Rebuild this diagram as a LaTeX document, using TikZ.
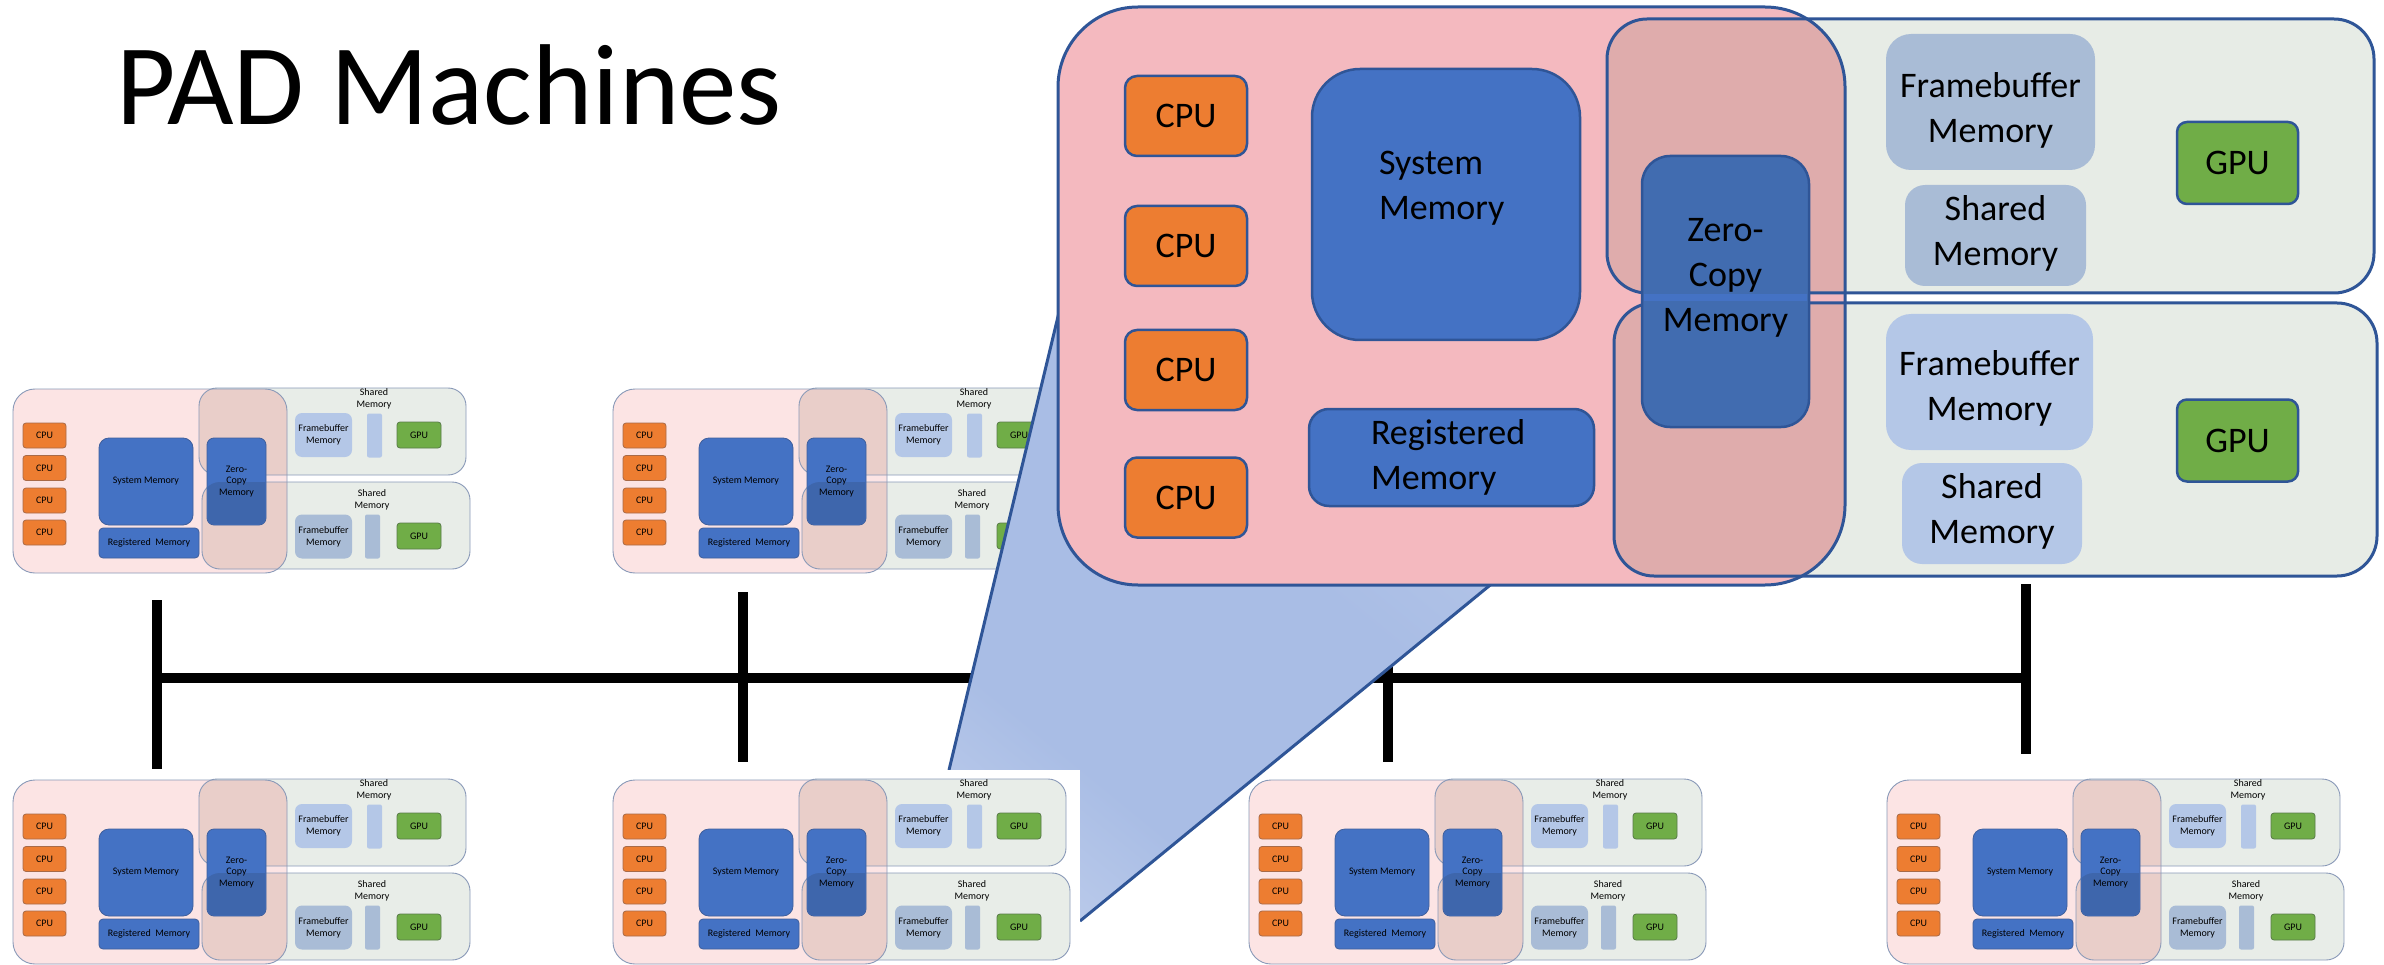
\documentclass[tikz,border=0pt]{standalone}
\usepackage{fontspec}
\setmainfont{Carlito}
\definecolor{sPink}{HTML}{FCE4E4}
\definecolor{sGreen}{HTML}{E8EDE8}
\definecolor{sOver}{HTML}{E9CEC9}
\definecolor{sLine}{HTML}{8A9AB8}
\definecolor{bPink}{HTML}{F4B9BF}
\definecolor{bGreen}{HTML}{E7ECE6}
\definecolor{bOver}{HTML}{DFACAC}
\definecolor{bLine}{HTML}{2F5597}
\definecolor{orangeC}{HTML}{ED7D31}
\definecolor{blueC}{HTML}{4472C4}
\definecolor{zcBig}{HTML}{416CB0}
\definecolor{zcDark}{HTML}{3E66AC}
\definecolor{fbLight}{HTML}{B4C7E7}
\definecolor{fbGray}{HTML}{A9BCD6}
\definecolor{gpuC}{HTML}{70AD47}
\definecolor{wedgeBlue}{HTML}{A9BDE5}
\definecolor{wedgeLight}{HTML}{BCCBEA}
\definecolor{wedgeWhite}{HTML}{ECF0F9}
\definecolor{sCPUl}{HTML}{A86A48}
\definecolor{sBlueL}{HTML}{3F5F9C}
\definecolor{sGPUl}{HTML}{587A48}
\pgfdeclarehorizontalshading{wedgeshade}{100bp}{color(0bp)=(wedgeWhite); color(15bp)=(wedgeWhite); color(43bp)=(wedgeBlue); color(59bp)=(wedgeBlue); color(76bp)=(wedgeLight); color(100bp)=(wedgeLight)}
\tikzset{
  every node/.style={inner sep=0pt,outer sep=0pt},
  sfont/.style={font=\fontsize{10}{11.7}\selectfont,align=center},
  bfont/.style={font=\fontsize{36}{45}\selectfont,align=center},
  sedge/.style={draw=sLine,line width=0.9pt},
  bedge/.style={draw=bLine,line width=3pt},
  scpu/.style={sfont,rectangle,rounded corners=3pt,fill=orangeC,draw=sCPUl,line width=0.8pt,minimum width=43pt,minimum height=25pt},
  ssys/.style={sfont,rectangle,rounded corners=10pt,fill=blueC,draw=sBlueL,line width=0.8pt,minimum width=94pt,minimum height=87pt},
  sreg/.style={sfont,rectangle,rounded corners=4pt,fill=blueC,draw=sBlueL,line width=0.8pt,minimum width=100pt,minimum height=30pt},
  szc/.style={rectangle,rounded corners=7pt,fill=blueC,draw=sBlueL,line width=0.8pt,minimum width=59pt,minimum height=87pt},
  sfb/.style={sfont,rectangle,rounded corners=7pt,minimum width=57pt,minimum height=44pt},
  sbar/.style={rectangle,rounded corners=2pt,minimum width=15pt,minimum height=44pt},
  sgpu/.style={sfont,rectangle,rounded corners=3pt,fill=gpuC,draw=sGPUl,line width=0.8pt,minimum width=44pt,minimum height=26pt},
  bcpu/.style={bfont,rectangle,rounded corners=12pt,fill=orangeC,draw=bLine,line width=2.5pt,minimum width=122pt,minimum height=80pt},
  bgpu/.style={bfont,rectangle,rounded corners=10pt,fill=gpuC,draw=bLine,line width=2.5pt,minimum width=121pt,minimum height=82pt},
  bblue/.style={rectangle,fill=blueC,draw=bLine,line width=2.5pt},
  bsoft/.style={rectangle},
  bus/.style={line width=10.6pt,black},
  wedgeline/.style={draw=bLine,line width=3pt},
}
\newcommand\smallmachine[3]{%
\begin{scope}[shift={(#1,#2)}]
\fill[sGreen,rounded corners=18pt] (199,388) rectangle (466,475);
\fill[sGreen,rounded corners=18pt] (202,482) rectangle (470,569);
\fill[sPink,rounded corners=22pt] (13,389) rectangle (287,573);
\begin{scope}
\clip[rounded corners=22pt] (13,389) rectangle (287,573);
\fill[sOver,rounded corners=18pt] (199,388) rectangle (466,475);
\fill[sOver,rounded corners=18pt] (202,482) rectangle (470,569);
\end{scope}
\draw[sedge,rounded corners=18pt] (199,388) rectangle (466,475);
\draw[sedge,rounded corners=18pt] (202,482) rectangle (470,569);
\draw[sedge,rounded corners=22pt] (13,389) rectangle (287,573);
\node[scpu] (#3cpua) at (44.5,435.5) {CPU};
\node[scpu] (#3cpub) at (44.5,468) {CPU};
\node[scpu] (#3cpuc) at (44.5,500.5) {CPU};
\node[scpu] (#3cpud) at (44.5,532.5) {CPU};
\node[ssys] (#3sys) at (146,481.5) {System Memory};
\node[sreg] (#3reg) at (149,543) {Registered\ \ Memory};
\node[szc] (#3zc) at (236.5,481.5) {};
\begin{scope}
\clip[rounded corners=18pt] (202,482) rectangle (470,569);
\fill[zcDark,rounded corners=6.5pt] (207.6,438.6) rectangle (265.4,524.4);
\end{scope}
\node[sfont] (#3zct) at (236.5,481.5) {Zero-\\Copy\\Memory};
\node[sfb,fill=fbLight] (#3fba) at (323.5,435) {Framebuffer\\Memory};
\node[sbar,fill=fbLight] (#3bara) at (374.5,435.5) {};
\node[sfont] (#3sma) at (374,399) {Shared\\Memory};
\node[sgpu] (#3gpua) at (419,435) {GPU};
\node[sfb,fill=fbGray] (#3fbb) at (323.5,536.5) {Framebuffer\\Memory};
\node[sbar,fill=fbGray] (#3barb) at (372.5,536.5) {};
\node[sfont] (#3smb) at (372,500) {Shared\\Memory};
\node[sgpu] (#3gpub) at (419,536) {GPU};
\end{scope}}
\begin{document}
\begin{tikzpicture}[x=1pt,y=-1pt]
\useasboundingbox (0,0) rectangle (2384,965);
\fill[white] (0,0) rectangle (2384,965);
% title
\node[anchor=base west,font=\fontsize{115}{138}\selectfont] (title) at (116,125) {PAD Machines};
% network
\coordinate (busL) at (157,678);
\coordinate (busR) at (2026,678);
\coordinate (s1t) at (157,600); \coordinate (s1b) at (157,769);
\coordinate (s2t) at (743,592); \coordinate (s2b) at (743,762);
\coordinate (s3t) at (1388,592); \coordinate (s3b) at (1388,762);
\coordinate (s4t) at (2026,584); \coordinate (s4b) at (2026,754);
\draw[bus] (busL) -- (busR);
\draw[bus] (s1t) -- (s1b);
\draw[bus] (s2t) -- (s2b);
\draw[bus] (s3t) -- (s3b);
\draw[bus] (s4t) -- (s4b);
% small machines
\smallmachine{0}{0}{ma}
\smallmachine{600}{0}{mb}
\smallmachine{0}{391}{na}
\smallmachine{1236}{391}{nc}
\smallmachine{1874}{391}{nd}
% zoom wedge
\coordinate (wA) at (949,770);
\coordinate (wB) at (1080,770);
\coordinate (wC) at (1080,921);
\coordinate (wD) at (1594,500);
\coordinate (wE) at (1086,200);
\fill[wedgeBlue] (wA) -- (wB) -- (wC) -- (wD) -- (wE) -- cycle;
\begin{scope}
\clip (wA) -- (wB) -- (wC) -- (wD) -- (wE) -- cycle;
\shade[shading=wedgeshade,transform canvas={rotate around={50.7:(1200,700)}}] (750,100) rectangle (1650,1300);
\end{scope}
\draw[wedgeline] (wA) -- (wE);
\draw[wedgeline] (wC) -- (wD);
\fill[white] (600,770) rectangle (1080,965);
\smallmachine{600}{391}{nb}
% big machine
\fill[bGreen,rounded corners=40pt] (1607,19) rectangle (2374,293);
\fill[bGreen,rounded corners=40pt] (1614,303) rectangle (2377,576);
\fill[bPink,rounded corners=80pt] (1058,7) rectangle (1845,585);
\begin{scope}
\clip[rounded corners=80pt] (1058,7) rectangle (1845,585);
\fill[bOver,rounded corners=40pt] (1607,19) rectangle (2374,293);
\fill[bOver,rounded corners=40pt] (1614,303) rectangle (2377,576);
\end{scope}
\draw[bedge,rounded corners=40pt] (1607,19) rectangle (2374,293);
\draw[bedge,rounded corners=40pt] (1614,303) rectangle (2377,576);
\draw[bedge,rounded corners=80pt] (1058,7) rectangle (1845,585);
\node[bcpu] (bcpua) at (1186,116) {CPU};
\node[bcpu] (bcpub) at (1186,246) {CPU};
\node[bcpu] (bcpuc) at (1186,370) {CPU};
\node[bcpu] (bcpud) at (1186,497.5) {CPU};
\node[bblue,rounded corners=48pt,minimum width=268pt,minimum height=271pt] (bsys) at (1446,204.5) {};
\node[bfont,align=left,anchor=west] (bsyst) at (1379,188) {System\\Memory};
\node[bblue,rounded corners=20pt,minimum width=285pt,minimum height=97pt] (breg) at (1451.5,457.5) {};
\node[bfont,align=left,anchor=west] (bregt) at (1371,457) {Registered\\Memory};
\node[bblue,fill=zcBig,rounded corners=28pt,minimum width=167pt,minimum height=271pt] (bzc) at (1725.5,291.5) {};
\begin{scope}
\clip (1644,150) rectangle (1807,430);
\fill[blueC] (1644,294.5) rectangle (1807,301.5);
\end{scope}
\node[bfont] (bzct) at (1725.5,278) {Zero-\\Copy\\Memory};
\node[bsoft,fill=fbGray,rounded corners=25pt,minimum width=209pt,minimum height=136pt] (bfba) at (1990.5,102) {};
\node[bfont] (bfbat) at (1990.5,110) {Framebuffer\\Memory};
\node[bsoft,fill=fbGray,rounded corners=20pt,minimum width=181pt,minimum height=101pt] (bsma) at (1995.5,235.5) {};
\node[bfont] (bsmat) at (1995.5,233) {Shared\\Memory};
\node[bgpu] (bgpua) at (2237.5,163) {GPU};
\node[bsoft,fill=fbLight,rounded corners=25pt,minimum width=207pt,minimum height=136pt] (bfbb) at (1989.5,382) {};
\node[bfont] (bfbbt) at (1989.5,388) {Framebuffer\\Memory};
\node[bsoft,fill=fbLight,rounded corners=20pt,minimum width=180pt,minimum height=101pt] (bsmb) at (1992,513.5) {};
\node[bfont] (bsmbt) at (1992,511) {Shared\\Memory};
\node[bgpu] (bgpub) at (2237.5,440.5) {GPU};
\end{tikzpicture}
\end{document}
